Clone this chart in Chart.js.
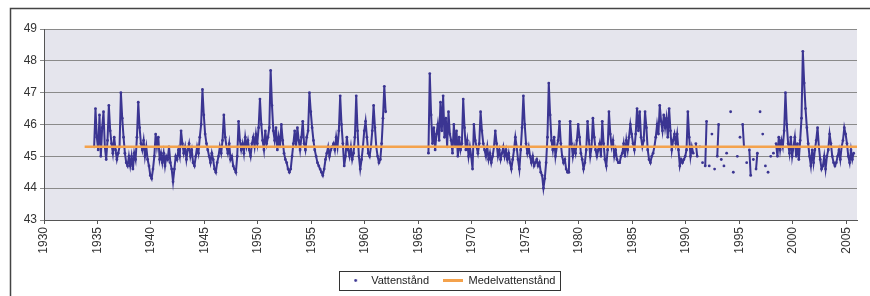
<!DOCTYPE html>
<html>
<head>
<meta charset="utf-8">
<script src="https://cdn.jsdelivr.net/npm/chart.js@4/dist/chart.umd.min.js"></script>
<style>
  html, body { margin: 0; padding: 0; background: #fff; }
</style>
</head>
<body>
<canvas id="chart" width="870" height="296"></canvas>
<script>
// Water level readings, 8 per year (every 1.5 months)
const step = 0.125;

const level1934 = [ // from 1934.7
  45.3, 46.5, 45.6,
  45.2, 46.3, 45.0, 45.9, 46.4, 45.3, 44.9, 45.5,
  46.6, 45.8, 45.4, 45.1, 45.6, 45.2, 44.9, 45.1,
  45.3, 47.0, 46.2, 45.6, 45.1, 44.8, 44.7, 45.0,
  44.7, 45.0, 44.6, 45.1, 44.9, 45.6, 46.7, 45.9,
  45.4, 45.2, 45.5, 45.0, 45.3, 44.9, 44.7, 44.4
];
const level1940 = [
  44.3, 44.6, 45.0, 45.7, 45.3, 45.6, 44.9, 45.1,
  44.8, 45.1, 44.7, 45.0, 44.9, 45.3, 44.8, 44.6,
  44.2, 44.6, 45.0, 44.9, 45.2, 45.0, 45.8, 45.4,
  45.1, 45.3, 44.9, 45.2, 45.4, 45.0, 45.2, 44.8,
  44.7, 45.0, 45.3, 45.1, 45.6, 46.0, 47.1, 46.3,
  45.7, 45.4, 45.2, 45.0, 44.8, 45.1, 44.9, 44.6,
  44.5, 44.8, 45.0, 45.3, 45.1, 45.5, 46.3, 45.6,
  45.3, 45.1, 45.4, 44.9, 45.0, 44.7, 44.6, 44.5,
  45.0, 46.1, 45.5, 45.2, 45.4, 45.1, 45.6, 45.3,
  45.5, 45.2, 45.0, 45.4, 45.6, 45.3, 45.7, 45.4
];
const level1950 = [
  45.9, 46.8, 46.0, 45.5, 45.2, 45.8, 45.4, 45.6,
  45.9, 47.7, 46.6, 45.8, 45.5, 45.9, 45.2, 45.6,
  45.3, 46.0, 45.5, 45.1, 44.9, 44.8, 44.6, 44.5,
  44.6, 45.0, 45.4, 45.8, 45.3, 45.9, 45.5, 45.2,
  45.6, 46.1, 45.4, 45.2, 45.6, 45.8, 47.0, 46.4,
  45.9, 45.5, 45.2, 45.0, 44.8, 44.7, 44.6, 44.5,
  44.4, 44.6, 44.9, 45.1, 45.3, 45.0, 45.2, 45.3,
  45.4, 45.2, 45.6, 45.3, 45.8, 46.9, 46.0, 45.4,
  44.7, 45.0, 45.6, 45.2, 45.0, 45.3, 44.9, 45.1,
  45.6, 46.9, 45.8, 45.0, 44.6, 44.9, 45.3, 45.8
];
const level1960 = [
  46.1, 45.6, 45.1, 45.0, 45.3, 45.8, 46.6, 45.9,
  45.3, 45.0, 44.8, 44.9, 45.4, 46.2, 47.2, 46.4
];
const level1966 = [ // from 1965.9
  45.1,
  47.6, 46.3, 45.4, 45.9, 45.2, 45.7, 46.0, 45.5,
  46.7, 45.8, 46.9, 45.6, 46.2, 45.3, 46.4, 45.7,
  45.5, 45.1, 46.0, 45.3, 45.8, 45.0, 45.6, 45.2,
  45.4, 46.8, 45.9, 45.2, 45.5, 45.0, 45.3, 45.0
];
const level1970 = [
  44.6, 46.0, 45.5, 45.3, 45.1, 45.4, 46.4, 45.8,
  45.4, 45.2, 45.0, 45.3, 44.9, 45.1, 44.8, 45.0,
  45.3, 45.8, 45.4, 45.0, 45.2, 44.9, 45.1, 45.3,
  45.0, 45.2, 44.9, 45.1, 44.8, 44.6, 44.9, 45.2,
  45.6, 45.3, 44.9, 44.6, 45.2, 45.9, 46.9, 46.0,
  45.4, 45.1, 45.3, 45.0, 44.8, 45.0, 44.7, 44.8,
  44.9, 44.7, 44.8, 44.5, 44.4, 44.0, 44.3, 44.8,
  45.6, 47.3, 46.3, 45.5, 45.2, 45.6, 45.0, 45.3,
  45.5, 46.1, 45.4, 45.0, 44.8, 44.9, 44.6, 44.5,
  44.5, 46.1, 45.4, 45.0, 45.3, 45.1, 45.5, 46.0
];
const level1980 = [
  45.6, 45.1, 44.9, 44.6, 44.8, 45.2, 46.1, 45.5,
  45.0, 45.3, 46.2, 45.6, 45.2, 45.0, 45.2, 45.4,
  45.0, 46.1, 45.4, 44.9, 44.7, 45.2, 46.4, 45.7,
  45.3, 45.5, 45.0, 45.2, 44.9, 44.8, 44.8, 45.0,
  45.1, 45.4, 45.0, 45.5, 45.2, 45.6, 46.0, 45.7,
  45.4, 45.2, 45.7, 46.5, 45.8, 46.4, 45.6, 45.3,
  45.5, 46.4, 45.9, 45.2, 44.9, 44.8, 45.0, 45.1,
  45.3, 45.6, 46.0, 45.7, 46.6, 46.1, 45.8, 46.3,
  45.9, 46.2, 45.6, 46.5, 45.8, 45.2, 45.5, 45.7,
  45.4, 45.7, 45.2, 44.7, 44.9, 44.8, 44.9, 45.0
];
const level1990 = [
  45.2, 46.4, 45.6, 45.0, 45.3, 45.1, null, 45.4,
  45.0, null, 45.3, null, 44.8, null, 44.7, 46.1,
  null, 44.7, null, 45.7, null, 44.6, null, 45.0,
  46.0, null, 44.9, null, 44.7, null, 45.1, null,
  null, 46.4, null, 44.5, null, null, 45.0, null,
  45.6, null, 46.0, 45.3, null, 44.8, null, 45.2,
  44.4, null, 44.9, null, 44.6, 45.1, null, 46.4,
  null, 45.7, null, 44.7, null, 44.5, null, 45.0,
  null, 45.1, null, 45.4, 45.0, 45.6, 45.2, 45.5,
  45.3, 45.8, 47.0, 46.0, 45.4, 45.1, 45.6, 45.0
];
const level2000 = [
  45.3, 45.6, 45.0, 45.4, 44.9, 45.5, 46.2, 48.3,
  47.3, 46.5, 45.9, 45.4, 45.0, 44.7, 45.2, 44.8,
  45.2, 45.5, 45.9, 45.3, 44.9, 44.6, 44.7, 45.0,
  44.6, 45.0, 45.2, 45.7, 45.4, 45.0, 44.8, 44.7,
  44.8, 45.0, 45.2, 44.9, 45.3, 45.5, 45.9, 45.7,
  45.4, 45.0, 44.8, 45.2, 44.9, 45.1
];

// first reading of each block
const blockStarts = [1934.6875, 1940.0625, 1950.0625, 1960.0625, 1965.9375,
  1970.0625, 1980.0625, 1990.0625, 2000.0625];
const blockLevels = [level1934, level1940, level1950, level1960, level1966,
  level1970, level1980, level1990, level2000];

const meanLevel = 45.3;
const meanFrom = 1933.8;
const meanTo = 2006;

const yTicks = [43, 44, 45, 46, 47, 48, 49];
const seriesNames = ["Vattenstånd", "Medelvattenstånd"];

const waterColor = "#3b3592";
const meanColor = "#f4a24c";
const fontFamily = "'Liberation Sans', Arial, sans-serif";

// Build scatter points; a null between 1962 and 1966 breaks the trace
const waterPoints = [];
blockLevels.forEach((levels, b) => {
  levels.forEach((v, i) => {
    waterPoints.push({ x: blockStarts[b] + i * step, y: v });
  });
  if (blockStarts[b] === 1960.0625) waterPoints.push({ x: 1964, y: null });
});

// Small legend markers
function makeDot() {
  const c = document.createElement("canvas");
  c.width = 5; c.height = 5;
  const g = c.getContext("2d");
  g.fillStyle = waterColor;
  g.beginPath();
  g.arc(2.5, 2.5, 1.4, 0, Math.PI * 2);
  g.fill();
  return c;
}
function makeDash() {
  const c = document.createElement("canvas");
  c.width = 20; c.height = 3;
  const g = c.getContext("2d");
  g.fillStyle = meanColor;
  g.fillRect(0, 0, 20, 3);
  return c;
}
const legendMarks = [makeDot(), makeDash()];

// Background, outer frame and legend frame
const framePlugin = {
  id: "frames",
  beforeDraw(chart) {
    const ctx = chart.ctx;
    const a = chart.chartArea;
    ctx.save();
    ctx.fillStyle = "#ffffff";
    ctx.fillRect(0, 0, chart.width, chart.height);
    ctx.fillStyle = "#e5e5ed";
    ctx.fillRect(a.left, a.top, a.right - a.left, a.bottom - a.top);
    ctx.restore();
  },
  afterDraw(chart) {
    const ctx = chart.ctx;
    ctx.save();
    ctx.strokeStyle = "#444";
    ctx.lineWidth = 1.5;
    ctx.beginPath();
    ctx.moveTo(10.5, chart.height);
    ctx.lineTo(10.5, 8.5);
    ctx.lineTo(chart.width, 8.5);
    ctx.stroke();

    const boxes = chart.legend.legendHitBoxes;
    if (boxes && boxes.length) {
      const first = boxes[0];
      const last = boxes[boxes.length - 1];
      const left = first.left - 7;
      const right = last.left + last.width + 4;
      const top = first.top - 4;
      const h = first.height + 8;
      ctx.lineWidth = 1;
      ctx.strokeStyle = "#333";
      ctx.strokeRect(Math.round(left) + 0.5, Math.round(top) + 0.5, Math.round(right - left), Math.round(h));
    }
    ctx.restore();
  }
};

new Chart(document.getElementById("chart"), {
  type: "scatter",
  data: {
    datasets: [
      {
        label: seriesNames[0],
        data: waterPoints,
        showLine: true,
        spanGaps: false,
        borderColor: waterColor,
        backgroundColor: waterColor,
        borderWidth: 2,
        pointRadius: 1.4,
        pointHoverRadius: 1.4,
        pointBorderWidth: 0,
        order: 2
      },
      {
        label: seriesNames[1],
        data: [{ x: meanFrom, y: meanLevel }, { x: meanTo, y: meanLevel }],
        showLine: true,
        borderColor: meanColor,
        backgroundColor: meanColor,
        borderWidth: 2.5,
        pointRadius: 0,
        order: 1
      }
    ]
  },
  options: {
    responsive: false,
    animation: false,
    layout: { padding: { left: 12, right: 13, top: 29, bottom: 0 } },
    plugins: {
      tooltip: { enabled: false },
      legend: {
        position: "bottom",
        fullSize: false,
        labels: {
          usePointStyle: true,
          pointStyleWidth: 20,
          padding: 14,
          color: "#222",
          font: { family: fontFamily, size: 11 },
          sort: (a, b) => a.datasetIndex - b.datasetIndex,
          generateLabels(chart) {
            const items = Chart.defaults.plugins.legend.labels.generateLabels(chart);
            items.forEach((it) => { it.pointStyle = legendMarks[it.datasetIndex]; });
            return items;
          }
        }
      }
    },
    scales: {
      x: {
        type: "linear",
        min: 1930,
        max: 2006,
        afterFit(scale) { scale.height = 41; },
        ticks: {
          stepSize: 5,
          includeBounds: false,
          minRotation: 90,
          maxRotation: 90,
          padding: 3,
          color: "#333",
          font: { family: fontFamily, size: 12 },
          callback: (v) => String(v)
        },
        grid: { drawOnChartArea: false, drawTicks: true, tickLength: 4, color: "#555" },
        border: { color: "#555", width: 1 }
      },
      y: {
        min: yTicks[0],
        max: yTicks[yTicks.length - 1],
        afterFit(scale) { scale.width = 32; },
        ticks: {
          stepSize: 1,
          padding: 3,
          color: "#333",
          font: { family: fontFamily, size: 12 }
        },
        grid: { color: "#8a8a8a", tickLength: 4 },
        border: { color: "#555", width: 1 }
      }
    }
  },
  plugins: [framePlugin]
});
</script>
</body>
</html>
